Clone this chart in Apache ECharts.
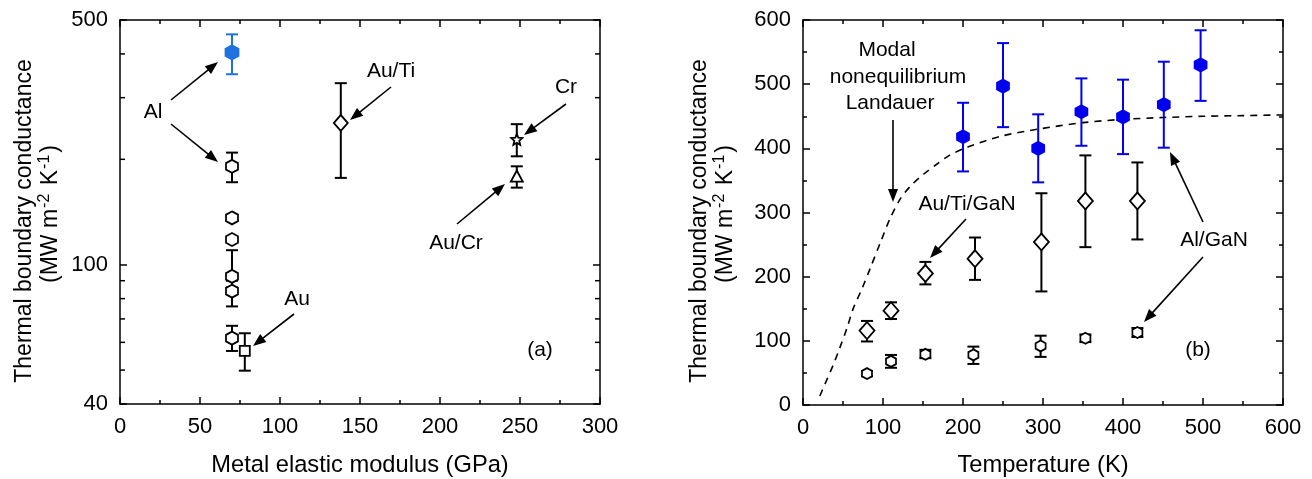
<!DOCTYPE html>
<html><head><meta charset="utf-8">
<script src="https://cdn.jsdelivr.net/npm/echarts@6/dist/echarts.min.js"></script>
<style>html,body{margin:0;padding:0;background:#fff}#c{width:1312px;height:479px}</style>
</head><body><div id="c"></div>
<script>
// ---------- Panel (a): G vs metal elastic modulus ----------
const alBlueX = [70], alBlueY = [404], alBlueLo = [350], alBlueHi = [455];
const alHexX = [70, 70, 70, 70, 70, 70];
const alHexY = [191, 136, 118, 92.6, 84, 61.7];
const alHexLo = [172, null, null, 86, 76, 56.7];
const alHexHi = [209, null, null, 110, 90, 66.9];
const auX = [78], auY = [56.7], auLo = [49.8], auHi = [63.7];
const auTiX = [138], auTiY = [254], auTiLo = [177], auTiHi = [330];
const crX = [248], crY = [228], crLo = [204], crHi = [252];
const auCrX = [248], auCrY = [179], auCrLo = [166], auCrHi = [191];
const logMinorTicks = [50, 60, 70, 80, 90, 200, 300, 400];

// ---------- Panel (b): G vs temperature ----------
const tBlue = [200, 250, 294, 348, 400, 451, 497];
const gBlue = [418, 497, 400, 457, 449, 468, 530];
const blueLo = [364, 433, 347, 404, 391, 401, 474];
const blueHi = [471, 564, 453, 509, 507, 535, 584];
const tDia = [80, 110, 153, 215, 298, 353, 418];
const gDia = [116, 147, 205, 228, 254, 318, 318];
const diaLo = [99, 134, 188, 195, 177, 246, 258];
const diaHi = [131, 160, 223, 261, 330, 389, 378];
const tHex = [80, 110, 153, 213, 297, 353, 418];
const gHex = [49, 68, 79, 78, 92, 104, 113];
const hexLo = [45, 58, 73, 64, 75, 98, 106];
const hexHi = [53, 78, 86, 91, 108, 110, 120];
const tLand = [21, 30, 38, 46, 55, 63, 74, 84, 97, 109, 122, 135, 151, 168, 183, 206, 248, 294, 350, 398, 450, 500, 550, 600];
const gLand = [14, 40, 63, 89, 120, 151, 182, 213, 254, 291, 322, 342, 360, 376, 389, 402, 419, 430, 440, 445, 448, 450, 451, 452];

const FONT = '"Liberation Sans", Arial, sans-serif';
const HEX = 'path://M0,-1L0.866,-0.5L0.866,0.5L0,1L-0.866,0.5L-0.866,-0.5Z';
const STAR = (function(){let s='path://';for(let i=0;i<10;i++){const r=i%2?0.45:1;const a=-Math.PI/2+i*Math.PI/5;s+=(i?'L':'M')+(r*Math.cos(a)).toFixed(3)+','+(r*Math.sin(a)).toFixed(3);}return s+'Z';})();

function pts(xs, ys){ return xs.map((x,i)=>[x, ys[i]]); }
function errs(xs, lo, hi){ const d=[]; xs.forEach((x,i)=>{ if(lo[i]!=null && hi[i]!=null) d.push([x, lo[i], hi[i]]); }); return d; }
function errRender(color, cap, lw){
  return function(params, api){
    const x = api.value(0), lo = api.value(1), hi = api.value(2);
    const p1 = api.coord([x, hi]), p2 = api.coord([x, lo]);
    const st = {stroke: color, lineWidth: lw};
    return {type:'group', children:[
      {type:'line', shape:{x1:p1[0],y1:p1[1],x2:p2[0],y2:p2[1]}, style:st},
      {type:'line', shape:{x1:p1[0]-cap,y1:p1[1],x2:p1[0]+cap,y2:p1[1]}, style:st},
      {type:'line', shape:{x1:p2[0]-cap,y1:p2[1],x2:p2[0]+cap,y2:p2[1]}, style:st}
    ]};
  };
}
function errSeries(data, color, cap, xi, yi, lw){
  return {type:'custom', xAxisIndex:xi, yAxisIndex:yi, data:data, renderItem:errRender(color, cap, lw||2), encode:{x:0, y:[1,2]}, z:2, silent:true, clip:false};
}
function scat(data, symbol, size, fill, stroke, xi, yi){
  return {type:'scatter', xAxisIndex:xi, yAxisIndex:yi, data:data, symbol:symbol, symbolSize:size, z:5, silent:true,
    itemStyle:{color:fill, borderColor:stroke, borderWidth:1.8, opacity:1}};
}

const lineSt = {color:'#000', width:1.5};
const labelSt = {color:'#000', fontSize:22, fontFamily:FONT};
function mkAxis(base, extra){ return Object.assign({}, base, extra); }

const xA = {gridIndex:0, type:'value', min:0, max:300, interval:50,
  axisLine:{show:true, onZero:false, lineStyle:lineSt},
  axisTick:{show:true, inside:true, length:7, lineStyle:lineSt},
  minorTick:{show:true, splitNumber:2, length:4, lineStyle:lineSt},
  splitLine:{show:false}, minorSplitLine:{show:false}};
const yA = {gridIndex:0, type:'log', logBase:10, min:40, max:500,
  axisLine:{show:true, onZero:false, lineStyle:lineSt},
  axisTick:{show:true, inside:true, length:7, lineStyle:lineSt},
  splitLine:{show:false}};
const xB = {gridIndex:1, type:'value', min:0, max:600, interval:100,
  axisLine:{show:true, onZero:false, lineStyle:lineSt},
  axisTick:{show:true, inside:true, length:7, lineStyle:lineSt},
  minorTick:{show:true, splitNumber:2, length:4, lineStyle:lineSt},
  splitLine:{show:false}, minorSplitLine:{show:false}};
const yB = {gridIndex:1, type:'value', min:0, max:600, interval:100,
  axisLine:{show:true, onZero:false, lineStyle:lineSt},
  axisTick:{show:true, inside:true, length:7, lineStyle:lineSt},
  minorTick:{show:true, splitNumber:2, length:4, lineStyle:lineSt},
  splitLine:{show:false}, minorSplitLine:{show:false}};

const noLab = {show:false};
const option = {
  animation:false,
  backgroundColor:'#fff',
  grid:[
    {left:120, right:712, top:20, bottom:75},
    {left:803, right:29, top:20, bottom:74}
  ],
  xAxis:[
    mkAxis(xA, {position:'bottom', axisLabel:Object.assign({margin:12}, labelSt)}),
    mkAxis(xA, {position:'top', axisLabel:noLab}),
    mkAxis(xB, {position:'bottom', axisLabel:Object.assign({margin:12}, labelSt)}),
    mkAxis(xB, {position:'top', axisLabel:noLab})
  ],
  yAxis:[
    mkAxis(yA, {position:'left', axisLabel:Object.assign({margin:12, showMinLabel:true, showMaxLabel:true}, labelSt)}),
    mkAxis(yA, {position:'right', axisLabel:noLab}),
    mkAxis(yB, {position:'left', axisLabel:Object.assign({margin:12}, labelSt)}),
    mkAxis(yB, {position:'right', axisLabel:noLab})
  ],
  series:[
    // minor ticks on the log axis (both sides)
    {type:'custom', xAxisIndex:0, yAxisIndex:0, data:logMinorTicks.map(v=>[0, v]), silent:true, z:3, clip:false,
      encode:{x:0, y:1},
      renderItem:function(params, api){
        const y = api.coord([0, api.value(1)])[1];
        const cs = params.coordSys; const st = {stroke:'#000', lineWidth:1.5};
        return {type:'group', children:[
          {type:'line', shape:{x1:cs.x, y1:y, x2:cs.x+5, y2:y}, style:st},
          {type:'line', shape:{x1:cs.x+cs.width-5, y1:y, x2:cs.x+cs.width, y2:y}, style:st}
        ]};
      }},
    // panel (a)
    errSeries(errs(alBlueX, alBlueLo, alBlueHi), '#1f72dd', 6, 0, 0),
    errSeries(errs(alHexX, alHexLo, alHexHi), '#000', 6, 0, 0),
    errSeries(errs(auX, auLo, auHi), '#000', 6, 0, 0),
    errSeries(errs(auTiX, auTiLo, auTiHi), '#000', 6, 0, 0),
    errSeries(errs(crX, crLo, crHi), '#000', 6, 0, 0),
    errSeries(errs(auCrX, auCrLo, auCrHi), '#000', 6, 0, 0),
    scat(pts(alBlueX, alBlueY), HEX, [13,14], '#1f72dd', '#1f72dd', 0, 0),
    scat(pts(alHexX, alHexY), HEX, [12,13], '#fff', '#000', 0, 0),
    scat(pts(auX, auY), 'rect', 10, '#fff', '#000', 0, 0),
    scat(pts(auTiX, auTiY), 'diamond', [14,16], '#fff', '#000', 0, 0),
    scat(pts(crX, crY), STAR, 11, '#fff', '#000', 0, 0),
    scat(pts(auCrX, auCrY), 'triangle', [12,11], '#fff', '#000', 0, 0),
    // panel (b)
    {type:'line', xAxisIndex:2, yAxisIndex:2, data:pts(tLand, gLand), showSymbol:false, smooth:0.3, silent:true, z:1,
      lineStyle:{color:'#000', width:1.6, type:[7,6]}},
    errSeries(errs(tBlue, blueLo, blueHi), '#0000ee', 6, 2, 2),
    errSeries(errs(tDia, diaLo, diaHi), '#000', 6, 2, 2),
    errSeries(errs(tHex, hexLo, hexHi), '#000', 6, 2, 2),
    scat(pts(tBlue, gBlue), HEX, [12,13], '#0000ee', '#0000ee', 2, 2),
    scat(pts(tDia, gDia), 'diamond', [15,17], '#fff', '#000', 2, 2),
    scat(pts(tHex, gHex), HEX, [10,11], '#fff', '#000', 2, 2)
  ]
};

// annotations (pixel positions)
function arrow(x1, y1, x2, y2){
  const L = 13, W = 5;
  const dx = x2-x1, dy = y2-y1, d = Math.hypot(dx, dy), ux = dx/d, uy = dy/d;
  const bx = x2-ux*L, by = y2-uy*L;
  return {type:'group', children:[
    {type:'line', shape:{x1:x1, y1:y1, x2:bx+ux*2, y2:by+uy*2}, style:{stroke:'#000', lineWidth:1.6}},
    {type:'polygon', shape:{points:[[x2,y2],[bx-uy*W, by+ux*W],[bx+uy*W, by-ux*W]]}, style:{fill:'#000'}}
  ]};
}
function txt(x, y, s, size, extra){
  return Object.assign({type:'text', x:x, y:y, style:{text:s, font:(size||21)+'px '+FONT, fill:'#000', align:'center', verticalAlign:'middle'}}, extra||{});
}
function ytitle(x, y){
  return {type:'group', x:x, y:y, rotation:Math.PI/2, children:[
    {type:'text', x:-3, y:-13, style:{text:'Thermal boundary conductance', font:'23px '+FONT, fill:'#000', align:'center', verticalAlign:'middle'}},
    {type:'text', x:4, y:13, style:{text:'{n|(MW m}{s|-2}{n| K}{s|-1}{n|)}', fill:'#000', align:'center', verticalAlign:'middle',
      rich:{n:{fontSize:23, fontFamily:FONT, lineHeight:28, verticalAlign:'middle'},
            s:{fontSize:16, fontFamily:FONT, lineHeight:16, verticalAlign:'top', padding:[0,2,0,1]}}}}
  ]};
}
option.graphic = [
  ytitle(38, 218), ytitle(713, 218),
  txt(360, 465, 'Metal elastic modulus (GPa)', 23.7),
  txt(1043, 465, 'Temperature (K)', 23.7),
  // panel (a)
  txt(153, 112, 'Al'), arrow(171, 100, 218, 62), arrow(171, 124, 218, 162),
  txt(297, 299, 'Au'), arrow(294, 314, 253, 346),
  txt(391, 71, 'Au/Ti'), arrow(391, 87, 350, 120),
  txt(566, 87, 'Cr'), arrow(566, 104, 524, 135),
  txt(456, 243, 'Au/Cr'), arrow(457, 224, 505, 184),
  txt(540, 350, '(a)'),
  // panel (b)
  txt(887, 50, 'Modal'), txt(898, 77, 'nonequilibrium'), txt(890, 103, 'Landauer'),
  arrow(893, 120, 893, 202),
  txt(967, 204, 'Au/Ti/GaN'), arrow(966, 219, 930, 258),
  txt(1214, 240, 'Al/GaN'), arrow(1203, 222, 1170, 152), arrow(1203, 257, 1144, 322),
  txt(1198, 350, '(b)')
];

const chart = echarts.init(document.getElementById('c'));
chart.setOption(option);
</script></body></html>
